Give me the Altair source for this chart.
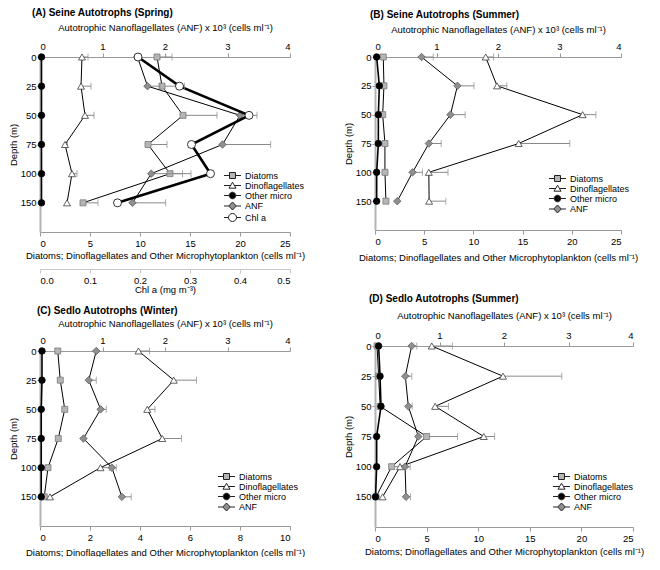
import altair as alt
import pandas as pd

DEPTHS = [0, 25, 50, 75, 100, 150]
SERIES = ["Diatoms", "Dinoflagellates", "Other micro", "ANF", "Chl a"]

# ---- Panel A: Seine Spring ----
A_diat = [11.7, 12.2, 14.3, 10.8, 13.0, 4.3]
A_diat_err = [1.5, 1.6, 3.4, 1.9, 2.1, 1.5]
A_dino = [4.2, 4.1, 4.5, 2.5, 3.2, 2.7]
A_dino_err = [0.6, 1.0, 0.9, 0.25, 0.5, 0.0]
A_other = [0.15, 0.15, 0.15, 0.15, 0.15, 0.15]
A_other_err = [0, 0, 0, 0, 0, 0]
A_anf = [1.56, 1.72, 3.2, 2.92, 1.78, 1.48]
A_anf_err = [0.0, 0.2, 0.0, 0.77, 0.5, 0.53]
A_chl = [0.196, 0.279, 0.418, 0.303, 0.341, 0.155]
A_chl_err = [0.0, 0.01, 0.016, 0.0, 0.0, 0.0]

# ---- Panel B: Seine Summer ----
B_diat = [0.84, 0.91, 0.78, 1.01, 1.01, 1.11]
B_diat_err = [0, 0, 0, 0.15, 0, 0]
B_dino = [11.25, 12.4, 21.1, 14.6, 5.47, 5.5]
B_dino_err = [0.8, 1.0, 1.35, 5.2, 1.95, 1.7]
B_other = [0.17, 0.44, 0.34, 0.34, 0.17, 0.17]
B_other_err = [0, 0, 0, 0, 0, 0]
B_anf = [0.757, 1.34, 1.227, 0.876, 0.611, 0.362]
B_anf_err = [0.19, 0.27, 0.24, 0.2, 0.16, 0.0]

# ---- Panel C: Sedlo Winter ----
C_diat = [0.71, 0.81, 0.99, 0.73, 0.32, 0.17]
C_diat_err = [0, 0, 0, 0, 0, 0]
C_dino = [3.94, 5.35, 4.29, 4.89, 2.42, 0.4]
C_dino_err = [0.44, 0.91, 0.31, 0.77, 0.35, 0.0]
C_other = [0.08, 0.08, 0.05, 0.05, 0.05, 0.05]
C_other_err = [0, 0, 0, 0, 0, 0]
C_anf = [0.9, 0.78, 0.97, 0.695, 1.15, 1.31]
C_anf_err = [0.0, 0.12, 0.09, 0.0, 0.07, 0.15]

# ---- Panel D: Sedlo Summer ----
D_diat = [0.2, 0.35, 0.5, 5.0, 1.61, 0.1]
D_diat_err = [0, 0, 0, 3.0, 0.8, 0]
D_dino = [5.5, 12.4, 5.83, 10.54, 2.43, 0.74]
D_dino_err = [2.0, 5.7, 1.3, 1.05, 0, 0]
D_other = [0.35, 0.49, 0.58, 0.16, 0.16, 0.05]
D_other_err = [0, 0, 0, 0, 0, 0]
D_anf = [0.568, 0.47, 0.517, 0.672, 0.466, 0.481]
D_anf_err = [0.08, 0.1, 0.06, 0.0, 0.08, 0.07]

FONT = "Liberation Sans"
MICRO_TITLE = "Diatoms; Dinoflagellates and Other Microphytoplankton (cells ml⁻¹)"
ANF_TITLE = "Autotrophic Nanoflagellates (ANF) x 10³ (cells ml⁻¹)"
CHL_TITLE = "Chl a (mg m⁻³)"

STYLE = {
    "Diatoms": dict(shape="square", fill="#b5b5b5", stroke="#7a7a7a", size=36, lw=1),
    "Dinoflagellates": dict(shape="triangle-up", fill="#ffffff", stroke="#3c3c3c", size=49, lw=1),
    "Other micro": dict(shape="circle", fill="#000000", stroke="#000000", size=42, lw=1.6),
    "ANF": dict(shape="diamond", fill="#8f8f8f", stroke="#5e5e5e", size=56, lw=1),
    "Chl a": dict(shape="circle", fill="#ffffff", stroke="#000000", size=64, lw=2.6),
}
# legend glyphs (unit = 3 px): short line with the marker in the middle
LEG_PATHS = {
    "Diatoms": "M-2.83,0H-1M1,0H2.83M-1,-1H1V1H-1Z",
    "Dinoflagellates": "M-2.83,0H-0.64M0.64,0H2.83M0,-1.08L1.17,0.9H-1.17Z",
    "Other micro": "M-2.83,0H-1.1M1.1,0H2.83M-1.1,0A1.1,1.1,0,1,0,1.1,0A1.1,1.1,0,1,0,-1.1,0Z",
    "ANF": "M-2.83,0H-1.27M1.27,0H2.83M-1.27,0L0,-1.33L1.27,0L0,1.33Z",
    "Chl a": "M-2.83,0H-1.33M1.33,0H2.83M-1.33,0A1.33,1.33,0,1,0,1.33,0A1.33,1.33,0,1,0,-1.33,0Z",
}
LEG_WIDTH = {"Diatoms": 1, "Dinoflagellates": 1, "Other micro": 1.3, "ANF": 1, "Chl a": 1.8}

LABEL_EXPR = "[" + ",".join(f"'{d}'" for d in DEPTHS) + "][datum.value]"


def frame(s, vals, errs):
    return pd.DataFrame({"series": s, "idx": list(range(len(vals))), "value": vals,
                         "hi": [v + e for v, e in zip(vals, errs)], "err": errs})


def panel(title, title_dx, title_offset, micro, anf, chl, xmax, xstep, width, height,
          lx, ly, anf_pad, micro_pad):
    allser = micro + anf + (chl or [])
    dom = [s for s, _, _ in allser]
    y = alt.Y("idx:Q", scale=alt.Scale(domain=[0, 6], reverse=True, nice=False, zero=False),
              axis=alt.Axis(values=list(range(len(DEPTHS))), labelExpr=LABEL_EXPR, title="Depth (m)",
                            domainColor="#b3b3b3", domainWidth=2, tickSize=3, labelPadding=1,
                            titlePadding=2))

    def group(series_list, scale, axis):
        layers = []
        x = alt.X("value:Q", scale=scale, axis=axis)
        for s, vals, errs in series_list:
            st = STYLE[s]
            base = alt.Chart(frame(s, vals, errs))
            layers.append(base.mark_line(color="black", strokeWidth=st["lw"]).encode(
                x=x, y=y, order="idx:Q"))
        for s, vals, errs in series_list:
            base = alt.Chart(frame(s, vals, errs)).transform_filter("datum.err > 0")
            layers.append(base.mark_rule(color="#8a8a8a", strokeWidth=1).encode(x=x, x2="hi:Q", y=y))
            layers.append(base.mark_tick(orient="vertical", size=7, thickness=1, color="#8a8a8a").encode(
                x=alt.X("hi:Q", scale=scale, axis=axis), y=y))
        for s, vals, errs in series_list:
            st = STYLE[s]
            base = alt.Chart(frame(s, vals, errs))
            layers.append(base.mark_point(shape=st["shape"], filled=True, fill=st["fill"],
                                          stroke=st["stroke"], strokeWidth=0.8, size=st["size"],
                                          opacity=1).encode(x=x, y=y))
        return alt.layer(*layers)

    micro_axis = alt.Axis(orient="bottom", values=list(range(0, xmax + 1, xstep)), title=MICRO_TITLE,
                          tickSize=4, labelPadding=2, titlePadding=micro_pad)
    anf_axis = alt.Axis(orient="top", values=[0, 1, 2, 3, 4], title=ANF_TITLE, tickSize=4,
                        labelPadding=2, titlePadding=anf_pad)
    micro_scale = alt.Scale(domain=[0, xmax], nice=False, zero=True)
    groups = [group(micro, micro_scale, micro_axis),
              group(anf, alt.Scale(domain=[0, 4], nice=False), anf_axis)]
    if chl is not None:
        chl_axis = alt.Axis(orient="bottom", offset=37, values=[0, 0.1, 0.2, 0.3, 0.4, 0.5],
                            format=".1f", title=CHL_TITLE, tickSize=4, labelPadding=2,
                            titlePadding=0, domainColor="#c8c8c8", tickColor="#c8c8c8")
        groups.append(group(chl, alt.Scale(domain=[0, 0.5], nice=False), chl_axis))

    # legend provider: invisible points whose shape/fill/stroke scales drive the legend
    legend = alt.Legend(title=None, orient="none", legendX=lx, legendY=ly, labelFont=FONT,
                        labelFontSize=9, symbolSize=36, rowPadding=-1.5, labelOffset=8,
                        symbolOpacity=1)
    leg_df = pd.concat([frame(s, v[:1], e[:1]) for s, v, e in micro])
    prov = alt.Chart(leg_df).mark_point(filled=True, opacity=0).encode(
        x=alt.X("value:Q", scale=micro_scale, axis=micro_axis), y=y,
        shape=alt.Shape("series:N", scale=alt.Scale(domain=dom, range=[LEG_PATHS[s] for s in dom]),
                        legend=legend),
        fill=alt.Fill("series:N", scale=alt.Scale(domain=dom, range=[STYLE[s]["fill"] for s in dom]),
                      legend=legend),
        stroke=alt.Stroke("series:N", scale=alt.Scale(domain=dom, range=["#222222"] * len(dom)),
                          legend=legend),
        strokeWidth=alt.StrokeWidth("series:N", scale=alt.Scale(domain=dom,
                                    range=[LEG_WIDTH[s] for s in dom]), legend=legend),
    )
    groups[0] = alt.layer(groups[0], prov)
    return alt.layer(*groups).resolve_scale(x="independent").properties(
        width=width, height=height,
        title=alt.TitleParams(title, anchor="start", frame="group", dx=title_dx, offset=title_offset,
                              font=FONT, fontSize=10, fontWeight="bold"),
    )


pA = panel("(A) Seine Autotrophs (Spring)", -8, 4,
           [("Diatoms", A_diat, A_diat_err), ("Dinoflagellates", A_dino, A_dino_err),
            ("Other micro", A_other, A_other_err)],
           [("ANF", A_anf, A_anf_err)], [("Chl a", A_chl, A_chl_err)],
           25, 5, 250, 175, 188, 114, 9, 3)
pB = panel("(B) Seine Autotrophs (Summer)", -5, 4,
           [("Diatoms", B_diat, B_diat_err), ("Dinoflagellates", B_dino, B_dino_err),
            ("Other micro", B_other, B_other_err)],
           [("ANF", B_anf, B_anf_err)], None,
           25, 5, 246, 173, 178, 117, 7, 7)
pC = panel("(C) Sedlo Autotrophs (Winter)", -3, 2,
           [("Diatoms", C_diat, C_diat_err), ("Dinoflagellates", C_dino, C_dino_err),
            ("Other micro", C_other, C_other_err)],
           [("ANF", C_anf, C_anf_err)], None,
           10, 2, 250, 175, 182, 121, 7, 6)
pD = panel("(D) Sedlo Autotrophs (Summer)", -6, 6,
           [("Diatoms", D_diat, D_diat_err), ("Dinoflagellates", D_dino, D_dino_err),
            ("Other micro", D_other, D_other_err)],
           [("ANF", D_anf, D_anf_err)], None,
           25, 5, 258, 181, 182, 126, 10, 4)

indep = dict(shape="independent", fill="independent", stroke="independent",
             strokeWidth="independent")
left = alt.vconcat(pA, pC, spacing=12).resolve_scale(**indep)
right = alt.vconcat(pB, pD, spacing=32).resolve_scale(**indep)
chart = alt.hconcat(left, right, spacing=38).resolve_scale(**indep).properties(
    padding={"left": 0, "top": 0, "right": 0, "bottom": 0}
).configure_view(stroke=None).configure_axis(
    labelFont=FONT, titleFont=FONT, labelFontSize=9.5, titleFontSize=9.5,
    titleFontWeight="normal", labelColor="black", titleColor="black",
    domainColor="#999999", tickColor="#999999", grid=False,
)

chart.save("out.html", embed_options={"renderer": "svg", "actions": False})
